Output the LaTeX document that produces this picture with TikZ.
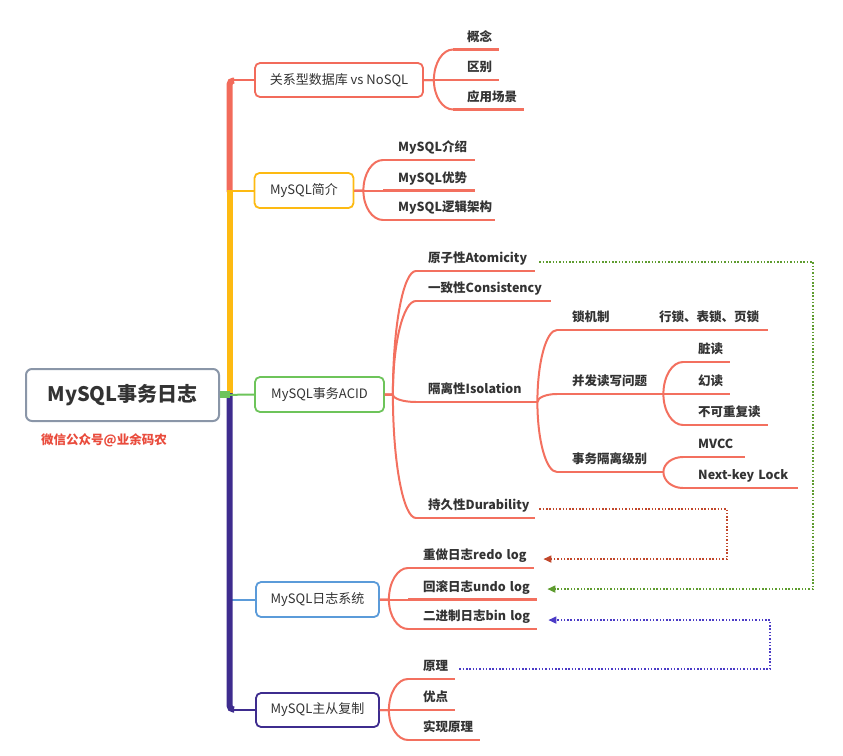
\documentclass[tikz,border=0pt]{standalone}
\usepackage{fontspec}
\setmainfont{Noto Sans CJK SC}
\usetikzlibrary{arrows.meta,calc}
\definecolor{txt}{HTML}{333333}
\definecolor{tred}{HTML}{F26B5B}
\definecolor{lred}{HTML}{F3705F}
\definecolor{tyel}{HTML}{FDBA12}
\definecolor{tgrn}{HTML}{6DC45A}
\definecolor{tblu}{HTML}{5B9BD9}
\definecolor{tpur}{HTML}{3E2C8E}
\definecolor{rgray}{HTML}{8A96A8}
\definecolor{stamp}{HTML}{E94B3C}
\definecolor{dred}{HTML}{C1472B}
\definecolor{dgrn}{HTML}{5E9C2F}
\definecolor{dpur}{HTML}{4B3BC6}
\newcommand\leafnode[6]{%
  \pgfmathsetmacro\lfw{#4-#2}%
  \node[leaf,text width=\lfw pt] (#1) at (#2,#3) {\noindent\hspace*{15pt}#6};%
  \draw[uline] (#1.south west) -- (#1.south east);%
}
\newcommand\padleaf[7]{%
  \pgfmathsetmacro\lfw{#4-#2}%
  \node[leaf,text width=\lfw pt] (#1) at (#2,#3) {\noindent\hspace*{#7pt}#6};%
  \draw[uline] (#1.south west) -- (#1.south east);%
}
% quarter-ellipse branch: start anchor, branch coordinate, child node
\newcommand\brc[3]{\draw[lconn] (#1) -- (#2) .. controls ($(#2)!0.552!(#2 |- #3.south west)$) and ($(#3.south west)!0.552!(#2 |- #3.south west)$) .. (#3.south west);}
\newcommand\subc[2]{\draw[lconn] (#1.south east) .. controls ($(#1.south east)!0.552!(#1.south east |- #2.south west)$) and ($(#2.south west)!0.552!(#1.south east |- #2.south west)$) .. (#2.south west);}
\tikzset{
 box/.style={draw, line width=1.8pt, rounded corners=5pt, fill=white, font=\fontsize{13}{15}\selectfont, text=txt, inner sep=0pt},
 leaf/.style={anchor=south west, inner xsep=0pt, inner ysep=5pt, text height=9.5pt, text depth=3pt, align=left, font=\bfseries\fontsize{12.5}{15}\selectfont, text=txt},
 uline/.style={draw=lred, line width=2.3pt},
 lconn/.style={draw=lred, line width=2pt},
 dotl/.style={line width=1.6pt, dash pattern=on 1.5pt off 1.8pt, -{Triangle[length=8pt,width=7pt]}},
}
\begin{document}
\begin{tikzpicture}[x=1pt,y=-1pt]
\useasboundingbox (0,0) rectangle (843,755);
% root
\node[draw=rgray, line width=2pt, rounded corners=6pt, minimum width=193pt, minimum height=52pt, text=txt, font=\bfseries\fontsize{20}{24}\selectfont] (root) at (122.5,395) {MySQL事务日志};
\node[text=stamp, font=\bfseries\fontsize{12.5}{15}\selectfont] (stampn) at (104,440) {微信公众号@业余码农};
% level 1 boxes
\node[box, draw=tred, minimum width=168pt, minimum height=34pt] (b1) at (339,80) {关系型数据库 vs NoSQL};
\node[box, draw=tyel, minimum width=99pt, minimum height=35pt] (b2) at (304,190.5) {MySQL简介};
\node[box, draw=tgrn, minimum width=129pt, minimum height=35pt] (b3) at (319.5,394.5) {MySQL事务ACID};
\node[box, draw=tblu, minimum width=123pt, minimum height=35pt] (b4) at (317.5,599.5) {MySQL日志系统};
\node[box, draw=tpur, minimum width=123pt, minimum height=34pt] (b5) at (317.5,710) {MySQL主从复制};
% trunk
\coordinate (t1) at (229.5,80);
\coordinate (t2) at (229.5,190.5);
\coordinate (t4) at (229.5,599.5);
\coordinate (t5) at (229.5,710);
\draw[tred, line width=2pt] (t1) -- (b1.west);
\draw[tyel, line width=2pt] (t2) -- (b2.west);
\draw[tblu, line width=2pt] (t4) -- (b4.west);
\draw[tpur, line width=2pt] (t5) -- (b5.west);
\draw[tred, line width=6pt, rounded corners=4pt] (234,80.5) -- (229.5,80.5) -- (229.5,192);
\draw[tyel, line width=6pt] (229.5,190) -- (229.5,393.5);
\draw[tpur, line width=6pt, rounded corners=4pt] (229.5,393) -- (229.5,709.5) -- (234,709.5);
\draw[tgrn, line width=2pt] (root.east) -- (b3.west);
\fill[tgrn] (220,391) rectangle (230,397.5);
% box1 leaves
\padleaf{l11}{453}{49.5}{499}{}{概念}{14}
\padleaf{l12}{453}{80}{499}{}{区别}{14}
\padleaf{l13}{453}{109.5}{524}{}{应用场景}{14}
\path (b1.east) ++(10,0) coordinate (b1b);
\brc{b1.east}{b1b}{l11}
\draw[lconn] (b1.east) -- (l12.south west);
\brc{b1.east}{b1b}{l13}
% box2 leaves
\leafnode{l21}{383}{160}{475}{}{MySQL介绍}
\leafnode{l22}{383}{190.5}{475}{}{MySQL优势}
\leafnode{l23}{383}{220}{495}{}{MySQL逻辑架构}
\path (b2.east) ++(9,0) coordinate (b2b);
\brc{b2.east}{b2b}{l21}
\draw[lconn] (b2.east) -- (l22.south west);
\brc{b2.east}{b2b}{l23}
% ACID leaves
\padleaf{a1}{416}{271}{535}{}{原子性Atomicity}{12}
\padleaf{a2}{416}{301}{551}{}{一致性Consistency}{12}
\padleaf{a3}{416}{402}{537}{}{隔离性Isolation}{12}
\padleaf{a4}{416}{518}{535}{}{持久性Durability}{12}
\path (b3.east) ++(8,0) coordinate (b3b);
\brc{b3.east}{b3b}{a1}
\brc{b3.east}{b3b}{a2}
\brc{b3.east}{b3b}{a3}
\brc{b3.east}{b3b}{a4}
% isolation
\leafnode{i1}{557}{330}{650}{}{锁机制}
\padleaf{i1b}{650}{330}{768}{}{行锁、表锁、页锁}{9}
\leafnode{i2}{557}{394}{663}{}{并发读写问题}
\leafnode{i3}{557}{472}{663}{}{事务隔离级别}
\subc{a3}{i1}
\subc{a3}{i2}
\subc{a3}{i3}
\draw[lconn] (i1.south east) -- (i1b.south west);
\leafnode{j1}{683}{362}{730}{}{脏读}
\leafnode{j2}{683}{394}{730}{}{幻读}
\leafnode{j3}{683}{425}{768}{}{不可重复读}
\subc{i2}{j1}
\draw[lconn] (i2.south east) -- (j2.south west);
\subc{i2}{j3}
\leafnode{k1}{683}{457}{745}{}{MVCC}
\leafnode{k2}{683}{488}{798}{}{Next-key Lock}
\subc{i3}{k1}
\subc{i3}{k2}
% log leaves
\leafnode{g1}{408}{568}{534}{}{重做日志redo log}
\leafnode{g2}{408}{599.5}{537}{}{回滚日志undo log}
\leafnode{g3}{408}{629}{537}{}{二进制日志bin log}
\path (b4.east) ++(9,0) coordinate (b4b);
\brc{b4.east}{b4b}{g1}
\draw[lconn] (b4.east) -- (g2.south west);
\brc{b4.east}{b4b}{g3}
% replication leaves
\leafnode{m1}{408}{679}{455}{}{原理}
\leafnode{m2}{408}{710}{455}{}{优点}
\leafnode{m3}{408}{740}{480}{}{实现原理}
\path (b5.east) ++(9,0) coordinate (b5b);
\brc{b5.east}{b5b}{m1}
\draw[lconn] (b5.east) -- (m2.south west);
\brc{b5.east}{b5b}{m3}
% dotted cross links
\coordinate (gc) at (813,420);
\coordinate (rc) at (727,530);
\coordinate (pc) at (770,640);
\draw[dotl, dgrn] ([xshift=4pt,yshift=-2.5pt]a1.east) -| (gc) |- ([xshift=10pt,yshift=-1pt]g2.east);
\draw[dotl, dred] ([xshift=4pt,yshift=-2.5pt]a4.east) -| (rc) |- ([xshift=9pt,yshift=-2.5pt]g1.east);
\draw[dotl, dpur] ([xshift=4pt,yshift=-1.5pt]m1.east) -| (pc) |- ([xshift=11pt,yshift=-2.5pt]g3.east);
\end{tikzpicture}
\end{document}
